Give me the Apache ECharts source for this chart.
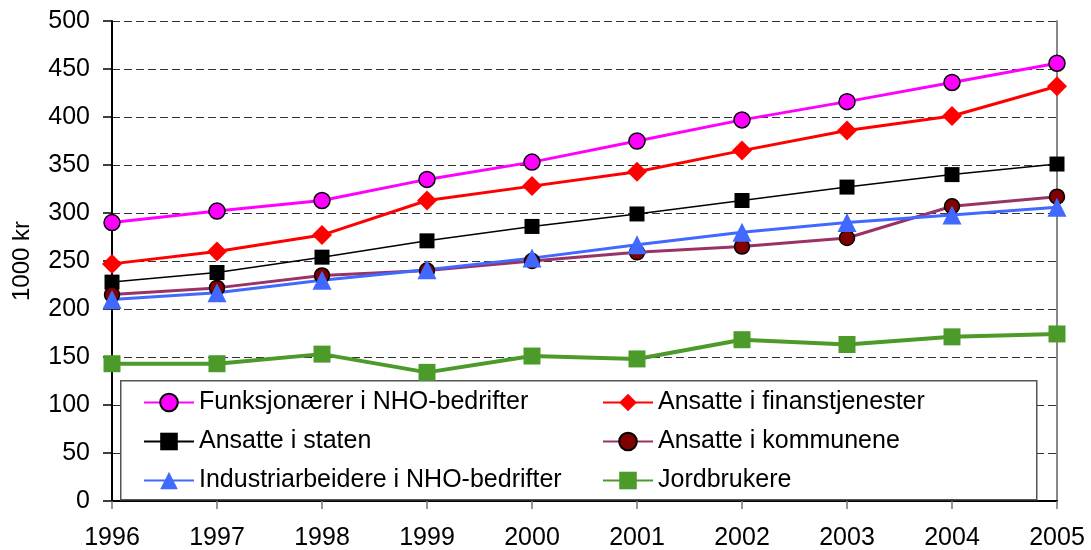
<!DOCTYPE html>
<html>
<head>
<meta charset="utf-8">
<script src="https://cdn.jsdelivr.net/npm/echarts@6/dist/echarts.min.js"></script>
<style>
  html, body { margin: 0; padding: 0; background: #fff; }
  #chart { width: 1091px; height: 550px; }
</style>
</head>
<body>
<div id="chart"></div>
<script>
// years on the x axis
const years = ['1996', '1997', '1998', '1999', '2000', '2001', '2002', '2003', '2004', '2005'];

// series values, 1000 kr
const funksjonaerer = [290, 302, 313, 335, 353, 375, 397, 416, 436, 456];
const finans = [247, 260, 277, 313, 328, 343, 365, 386, 401, 432];
const staten = [228, 238, 254, 271, 286, 299, 313, 327, 340, 351];
const kommunene = [215, 222, 235, 240, 250, 259, 265, 274, 307, 317];
const industri = [210, 217, 230, 241, 253, 267, 280, 290, 298, 306];
const jordbrukere = [143, 143, 153, 134, 151, 148, 168, 163, 171, 174];

const names = [
    'Funksjonærer i NHO-bedrifter',
    'Ansatte i finanstjenester',
    'Ansatte i staten',
    'Ansatte i kommunene',
    'Industriarbeidere i NHO-bedrifter',
    'Jordbrukere'
];

var chart = echarts.init(document.getElementById('chart'));
const font = 'Liberation Sans, Arial, sans-serif';

function line(name, data, color, width, symbol, size, fill, border) {
    return {
        name: name,
        type: 'line',
        data: data,
        symbol: symbol,
        symbolSize: size,
        showSymbol: true,
        animation: false,
        lineStyle: { color: color, width: width },
        itemStyle: {
            color: fill || color,
            borderColor: border ? '#000' : fill || color,
            borderWidth: border ? 1.5 : 0
        },
        emphasis: { disabled: true }
    };
}

var legendText = { fontFamily: font, fontSize: 25, color: '#000', lineHeight: 24 };

var option = {
    backgroundColor: '#fff',
    animation: false,
    grid: { left: 112, right: 34, top: 21, bottom: 49, outerBoundsMode: 'none', containLabel: false },
    xAxis: {
        type: 'category',
        data: years,
        boundaryGap: false,
        axisLine: { lineStyle: { color: '#000', width: 2 } },
        axisTick: { show: true, length: 8, alignWithLabel: true, lineStyle: { color: '#777', width: 1.5 } },
        axisLabel: { fontFamily: font, fontSize: 25, color: '#000', margin: 25 },
        splitLine: { show: false }
    },
    yAxis: [{
        type: 'value',
        min: 0,
        max: 500,
        interval: 50,
        name: '1000 kr',
        nameLocation: 'middle',
        nameGap: 78,
        nameRotate: 90,
        nameTextStyle: { fontFamily: font, fontSize: 24, color: '#000' },
        axisLine: { show: true, lineStyle: { color: '#000', width: 2 } },
        axisTick: { show: true, length: 9, lineStyle: { color: '#000', width: 1.5 } },
        axisLabel: { fontFamily: font, fontSize: 25, color: '#000', margin: 22 },
        splitLine: { show: true, lineStyle: { color: '#333', width: 1, type: [8, 4] } }
    }, {
        type: 'value',
        position: 'right',
        min: 0,
        max: 500,
        interval: 50,
        axisLine: { show: true, lineStyle: { color: '#888', width: 2 } },
        axisTick: { show: false },
        axisLabel: { show: false },
        splitLine: { show: false }
    }],
    graphic: [{
        type: 'rect',
        left: 120,
        top: 380,
        z: 3,
        shape: { width: 916, height: 119 },
        style: { fill: '#fff', stroke: '#555', lineWidth: 1.5 }
    }],
    legend: [{
        orient: 'vertical',
        left: 143,
        top: 390,
        padding: 0,
        itemWidth: 50,
        itemHeight: 22,
        itemGap: 14,
        selectedMode: false,
        data: [names[0], names[2], names[4]],
        textStyle: legendText
    }, {
        orient: 'vertical',
        left: 602,
        top: 390,
        padding: 0,
        itemWidth: 50,
        itemHeight: 22,
        itemGap: 14,
        selectedMode: false,
        data: [names[1], names[3], names[5]],
        textStyle: legendText
    }],
    series: [
        line(names[0], funksjonaerer, '#FF00FF', 3, 'circle', 16, '#FF00FF', true),
        line(names[1], finans, '#FF0000', 3, 'diamond', 20),
        line(names[2], staten, '#000000', 1.5, 'rect', 15),
        line(names[3], kommunene, '#993366', 3, 'circle', 15, '#800000', true),
        line(names[4], industri, '#4169FF', 3, 'triangle', 19),
        line(names[5], jordbrukere, '#4C9A2A', 4, 'rect', 17)
    ]
};

chart.setOption(option);
</script>
</body>
</html>
